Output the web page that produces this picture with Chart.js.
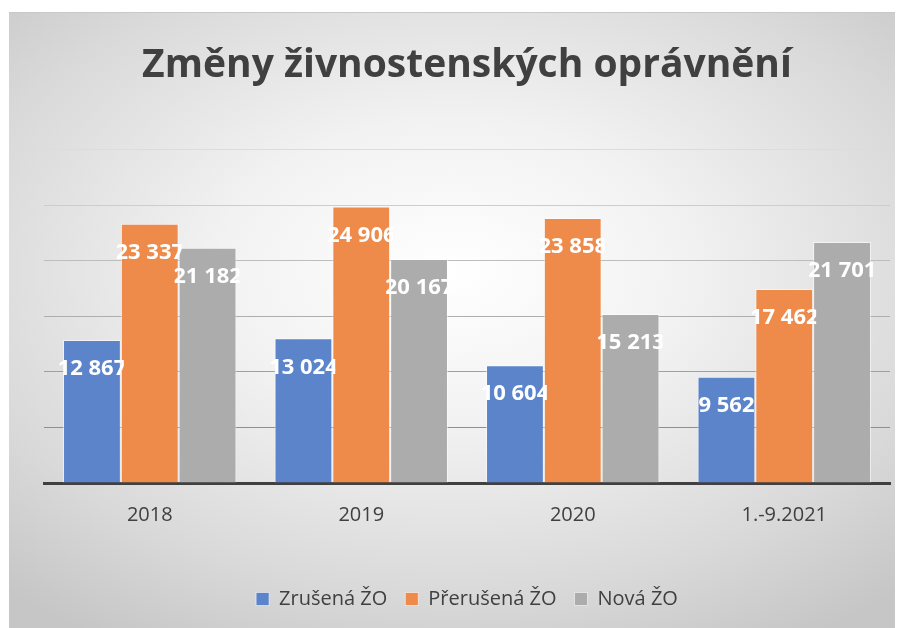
<!DOCTYPE html>
<html lang="cs">
<head>
<meta charset="UTF-8" />
<title>Změny živnostenských oprávnění</title>
<script src="https://cdn.jsdelivr.net/npm/chart.js"></script>
<style>
  html, body { margin: 0; padding: 0; background: #fff; }
  #frame {
    position: absolute; left: 9px; top: 12px; width: 886px; height: 616px;
    background: radial-gradient(ellipse 75% 70% at 50% 42%, #ffffff 0%, #f2f2f2 35%, #d9d9d9 75%, #c6c6c6 100%);
    border-top: 1px solid #c8c8c8;
  }
  #wrap { position: absolute; left: 0; top: 0; width: 886px; height: 616px; }
</style>
</head>
<body>
<div id="frame"><div id="wrap"><canvas id="c"></canvas></div></div>
<script>
const categories = ['2018', '2019', '2020', '1.-9.2021'];
const zrusena = [12867, 13024, 10604, 9562];
const prerusena = [23337, 24906, 23858, 17462];
const nova = [21182, 20167, 15213, 21701];
const seriesNames = ['Zrušená ŽO', 'Přerušená ŽO', 'Nová ŽO'];
const yTicks = [0, 5000, 10000, 15000, 20000, 25000, 30000];

const fmt = n => String(n).replace(/\B(?=(\d{3})+(?!\d))/g, ' ');

// popisky hodnot uvnitř horního konce sloupce
const labelsPlugin = {
  id: 'barLabels',
  afterDatasetsDraw(chart) {
    const ctx = chart.ctx;
    chart.data.datasets.forEach((ds, di) => {
      chart.getDatasetMeta(di).data.forEach((bar, i) => {
        const w = bar.width;
        ctx.save();
        ctx.beginPath();
        ctx.rect(bar.x - w / 2 - 4, bar.y, w + 7, 60);
        ctx.clip();
        ctx.fillStyle = '#ffffff';
        ctx.font = 'bold 22px "Open Sans", sans-serif';
        ctx.textAlign = 'center';
        ctx.textBaseline = 'middle';
        ctx.fillText(fmt(ds.data[i]), bar.x, bar.y + 29);
        ctx.restore();
      });
    });
  }
};

const borderCol = 'rgba(255,255,255,0.55)';
new Chart(document.getElementById('c'), {
  type: 'bar',
  data: {
    labels: categories,
    datasets: [
      { label: seriesNames[0], data: zrusena, backgroundColor: '#5b84cb', borderColor: borderCol, borderWidth: 1 },
      { label: seriesNames[1], data: prerusena, backgroundColor: '#ee8b4b', borderColor: borderCol, borderWidth: 1 },
      { label: seriesNames[2], data: nova, backgroundColor: '#acacac', borderColor: borderCol, borderWidth: 1 }
    ]
  },
  options: {
    responsive: true,
    maintainAspectRatio: false,
    animation: false,
    layout: { padding: { left: 35, right: 5, top: 0, bottom: 10 } },
    datasets: { bar: { categoryPercentage: 0.82, barPercentage: 1.0 } },
    plugins: {
      title: {
        display: true,
        text: 'Změny živnostenských oprávnění',
        color: '#404040',
        font: { family: '"Open Sans", sans-serif', size: 39, weight: 'bold' },
        padding: { top: 29, bottom: 61 }
      },
      legend: {
        position: 'bottom',
        labels: {
          color: '#404040',
          font: { family: '"Open Sans", sans-serif', size: 20 },
          boxWidth: 13, boxHeight: 13, padding: 18
        }
      },
      tooltip: { enabled: false }
    },
    scales: {
      x: {
        grid: { display: false },
        border: { display: true, color: '#404040', width: 3 },
        ticks: { color: '#404040', font: { family: '"Open Sans", sans-serif', size: 20 }, padding: 12 },
        afterFit: axis => { axis.height += 32; }
      },
      y: {
        min: 0, max: 30000,
        afterBuildTicks: axis => { axis.ticks = yTicks.map(v => ({ value: v })); },
        ticks: { display: false },
        border: { display: false },
        grid: {
          drawTicks: false,
          color: c => {
            const t = c.tick ? c.tick.value / 30000 : 0;
            const g = Math.round(128 + t * 92);
            return `rgb(${g},${g},${g})`;
          }
        }
      }
    }
  },
  plugins: [labelsPlugin]
});
</script>
</body>
</html>
